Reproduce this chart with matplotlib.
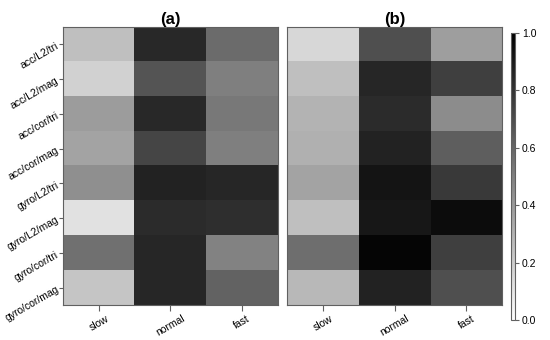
import numpy as np
import matplotlib
matplotlib.use("Agg")
import matplotlib.pyplot as plt
from matplotlib.colors import LinearSegmentedColormap

plt.rcParams["font.family"] = ["Liberation Sans", "DejaVu Sans"]

speeds = ["slow", "normal", "fast"]
features = ["acc/L2/tri", "acc/L2/mag", "acc/cor/tri", "acc/cor/mag",
            "gyro/L2/tri", "gyro/L2/mag", "gyro/cor/tri", "gyro/cor/mag"]

# panel (a): rows = features, cols = slow / normal / fast
vals_a = [[0.25, 0.84, 0.58],
          [0.18, 0.67, 0.50],
          [0.39, 0.84, 0.53],
          [0.36, 0.73, 0.50],
          [0.44, 0.86, 0.85],
          [0.12, 0.83, 0.82],
          [0.56, 0.85, 0.49],
          [0.23, 0.85, 0.61]]

# panel (b)
vals_b = [[0.16, 0.69, 0.38],
          [0.25, 0.85, 0.75],
          [0.30, 0.83, 0.45],
          [0.31, 0.86, 0.63],
          [0.36, 0.92, 0.77],
          [0.25, 0.91, 0.95],
          [0.57, 0.98, 0.75],
          [0.28, 0.86, 0.69]]

cmap = LinearSegmentedColormap.from_list("wb", ["#ffffff", "#000000"])
edge = "#606060"

fig = plt.figure(figsize=(5.5, 3.4), dpi=100)
ax_a = fig.add_axes([0.1145, 0.103, 0.3905, 0.818])
ax_b = fig.add_axes([0.522, 0.103, 0.391, 0.818])
cax = fig.add_axes([0.929, 0.059, 0.0075, 0.844])

for ax, vals, title in [(ax_a, vals_a, "(a)"), (ax_b, vals_b, "(b)")]:
    m = ax.imshow(np.array(vals), cmap=cmap, vmin=0, vmax=1,
                  aspect="auto", interpolation="nearest")
    ax.set_title(title, fontsize=12, fontweight="bold", pad=2)
    ax.set_xticks(range(len(speeds)))
    ax.set_xticklabels(speeds, rotation=30, fontsize=7.5, ha="center")
    for s in ax.spines.values():
        s.set_color(edge); s.set_linewidth(0.8)
    ax.tick_params(axis="x", length=4, color=edge, pad=2)

ax_a.set_yticks(range(len(features)))
ax_a.set_yticklabels(features, rotation=30, fontsize=7.5, ha="right",
                     rotation_mode="anchor")
ax_a.tick_params(axis="y", length=3, color=edge, pad=1)
ax_b.set_yticks([])

cb = fig.colorbar(m, cax=cax)
cb.set_ticks([0.0, 0.2, 0.4, 0.6, 0.8, 1.0])
cb.ax.tick_params(labelsize=7.5, length=3, color=edge, pad=2)
cb.outline.set_edgecolor(edge)
cb.outline.set_linewidth(0.8)

fig.savefig("out.png", dpi=100)
